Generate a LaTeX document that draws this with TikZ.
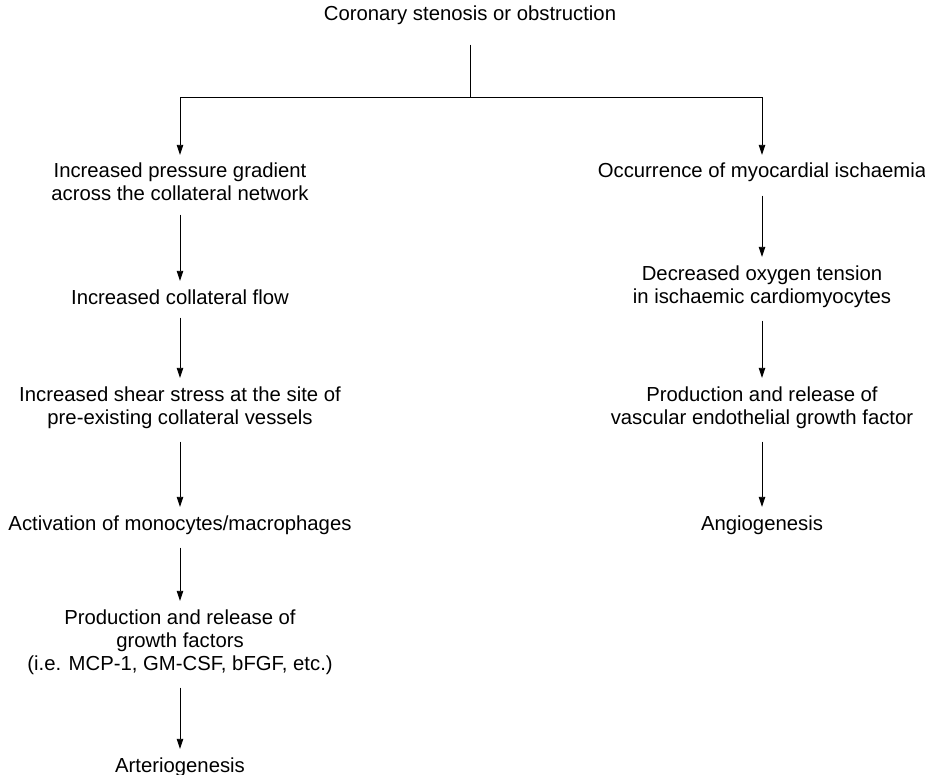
\documentclass[tikz,border=0pt]{standalone}
\usepackage{fontspec}
\setmainfont{Liberation Sans}
\usetikzlibrary{arrows.meta}
\tikzstyle{every path}=[line width=0.9pt]
\tikzstyle{stage}=[align=center, anchor=base, inner xsep=0pt, inner ysep=8pt, font=\fontsize{20.3}{23}\selectfont]
\tikzstyle{link}=[-{Triangle[length=10pt,width=6.5pt]}]
\tikzstyle{chain}=[link, shorten <=5pt]

\begin{document}
\begin{tikzpicture}[x=1pt, y=-1pt]
    \useasboundingbox (0,0) rectangle (925,775);

    % base of a node = baseline of its last line
    \node[stage] (cause) at (470,21) {Coronary stenosis or obstruction};
    \coordinate (split) at (470,97);

    % collateral side
    \node[stage] (gradient) at (180,201) {Increased pressure gradient\\across the collateral network};
    \node[stage] (flow) at (180,304) {Increased collateral flow};
    \node[stage] (shear) at (180,424) {Increased shear stress at the site of\\pre-existing collateral vessels};
    \node[stage] (monocytes) at (180,530) {Activation of monocytes/macrophages};
    \node[stage] (factors) at (180,670) {Production and release of\\growth factors\\(i.e. MCP-1, GM-CSF, bFGF, etc.)};
    \node[stage] (arterio) at (180,772) {Arteriogenesis};

    % ischaemic side
    \node[stage] (ischaemia) at (762,178) {Occurrence of myocardial ischaemia};
    \node[stage] (oxygen) at (762,303) {Decreased oxygen tension\\in ischaemic cardiomyocytes};
    \node[stage] (vegf) at (762,424) {Production and release of\\vascular endothelial growth factor};
    \node[stage] (angio) at (762,530) {Angiogenesis};

    \draw[shorten <=11pt] (cause.south) -- (split);
    \draw[link] (split) -| (gradient.north);
    \draw[link] (split) -| (ischaemia.north);

    \draw[chain] (gradient.south) -- (flow.north);
    \draw[chain] (flow.south) -- (shear.north);
    \draw[chain] (shear.south) -- (monocytes.north);
    \draw[chain] (monocytes.south) -- (factors.north);
    \draw[chain] (factors.south) -- (arterio.north);

    \draw[chain] (ischaemia.south) -- (oxygen.north);
    \draw[chain] (oxygen.south) -- (vegf.north);
    \draw[chain] (vegf.south) -- (angio.north);
\end{tikzpicture}
\end{document}
